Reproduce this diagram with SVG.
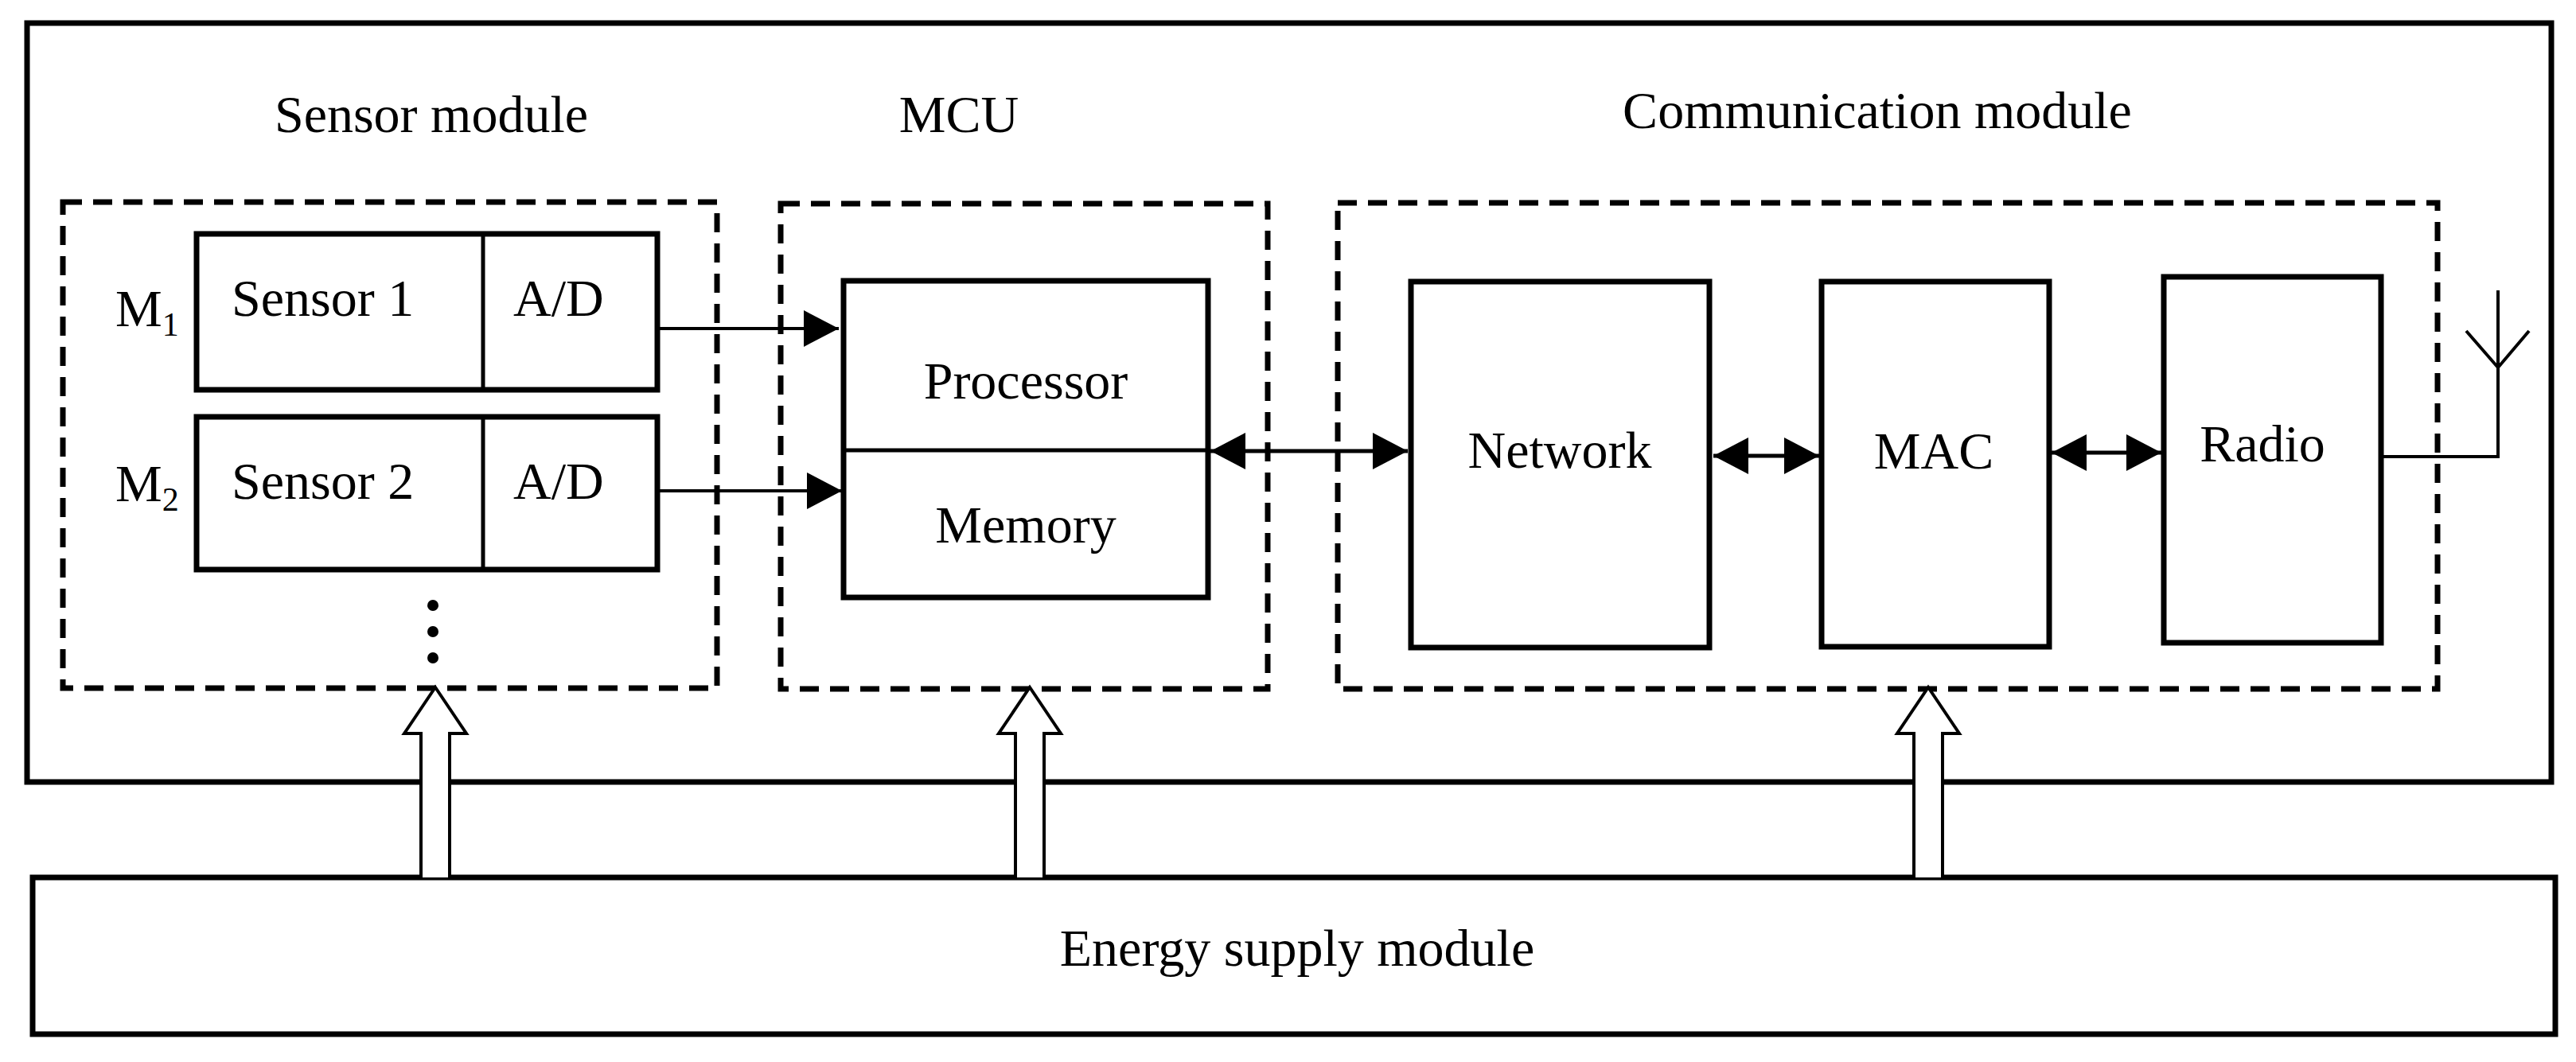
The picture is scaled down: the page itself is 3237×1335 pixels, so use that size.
<svg xmlns="http://www.w3.org/2000/svg" width="3237" height="1335" viewBox="0 0 3237 1335">
<style>
text{font-family:"Liberation Serif","Times New Roman",serif;font-size:66px;fill:#000}
.b{fill:#fff;stroke:#000;stroke-width:7}
.d{fill:none;stroke:#000;stroke-width:7;stroke-dasharray:24 14}
.l{stroke:#000;stroke-width:5;fill:none}
.h{fill:#fff;stroke:#000;stroke-width:4}
</style>
<defs>
<marker id="a" viewBox="0 0 10 10" refX="10" refY="5" markerWidth="44" markerHeight="46" markerUnits="userSpaceOnUse" preserveAspectRatio="none" orient="auto-start-reverse"><path d="M0,0L10,5L0,10z" fill="#000"/></marker>
</defs>
<rect id="outer" class="b" x="34" y="29" width="3172" height="954"/>
<g id="sensor-module">
<rect class="d" x="79" y="254" width="822" height="611"/>
<text x="542" y="166" text-anchor="middle">Sensor module</text>
<text x="145" y="410">M<tspan font-size="42" dy="12">1</tspan></text>
<text x="145" y="630">M<tspan font-size="42" dy="12">2</tspan></text>
<circle cx="544" cy="761" r="7"/><circle cx="544" cy="794" r="7"/><circle cx="544" cy="827" r="7"/>
</g>
<g id="sensor1"><rect class="b" x="247" y="294" width="579" height="196"/><line class="l" x1="607" y1="294" x2="607" y2="490"/>
<text x="291" y="397">Sensor 1</text><text x="645" y="397">A/D</text></g>
<g id="sensor2"><rect class="b" x="247" y="524" width="579" height="192"/><line class="l" x1="607" y1="524" x2="607" y2="716"/>
<text x="291" y="627">Sensor 2</text><text x="645" y="627">A/D</text></g>
<g id="mcu"><rect class="d" x="981" y="256" width="612" height="610"/>
<text x="1205" y="166" text-anchor="middle">MCU</text></g>
<g id="processor"><rect class="b" x="1060" y="353" width="458" height="398"/><line class="l" x1="1060" y1="566" x2="1518" y2="566"/>
<text x="1289" y="501" text-anchor="middle">Processor</text><text x="1289" y="682" text-anchor="middle">Memory</text></g>
<g id="comm"><rect class="d" x="1681" y="255" width="1382" height="611"/>
<text x="2359" y="161" text-anchor="middle">Communication module</text></g>
<g id="network"><rect class="b" x="1773" y="354" width="375" height="460" stroke-width="11"/><text x="1960" y="588" text-anchor="middle">Network</text></g>
<g id="mac"><rect class="b" x="2289" y="354" width="286" height="459"/><text x="2430" y="589" text-anchor="middle">MAC</text></g>
<g id="radio"><rect class="b" x="2719" y="348" width="273" height="460"/><text x="2843" y="580" text-anchor="middle">Radio</text></g>
<g id="energy"><rect class="b" x="41" y="1103" width="3170" height="197"/><text x="1630" y="1214" text-anchor="middle">Energy supply module</text></g>
<g id="connectors">
<line class="l" x1="826" y1="413" x2="1054" y2="413" marker-end="url(#a)" style="stroke-width:4"/>
<line class="l" x1="826" y1="617" x2="1058" y2="617" marker-end="url(#a)" style="stroke-width:4"/>
<line class="l" x1="1521" y1="567" x2="1769" y2="567" marker-start="url(#a)" marker-end="url(#a)" style="stroke-width:5"/>
<line class="l" x1="2153" y1="573" x2="2286" y2="573" marker-start="url(#a)" marker-end="url(#a)" style="stroke-width:5"/>
<line class="l" x1="2578" y1="569" x2="2716" y2="569" marker-start="url(#a)" marker-end="url(#a)" style="stroke-width:5"/>
<polyline class="l" points="2992,574 3139,574 3139,365" style="stroke-width:4"/>
<polyline class="l" points="3099,416 3139,462 3178,416" style="stroke-width:4"/>
<path class="h" d="M529,1103V922H508L547,864L586,922H565V1103"/>
<path class="h" d="M1276,1103V922H1255L1294,864L1333,922H1312V1103"/>
<path class="h" d="M2405,1103V922H2384L2423,864L2462,922H2441V1103"/>
</g>
</svg>
